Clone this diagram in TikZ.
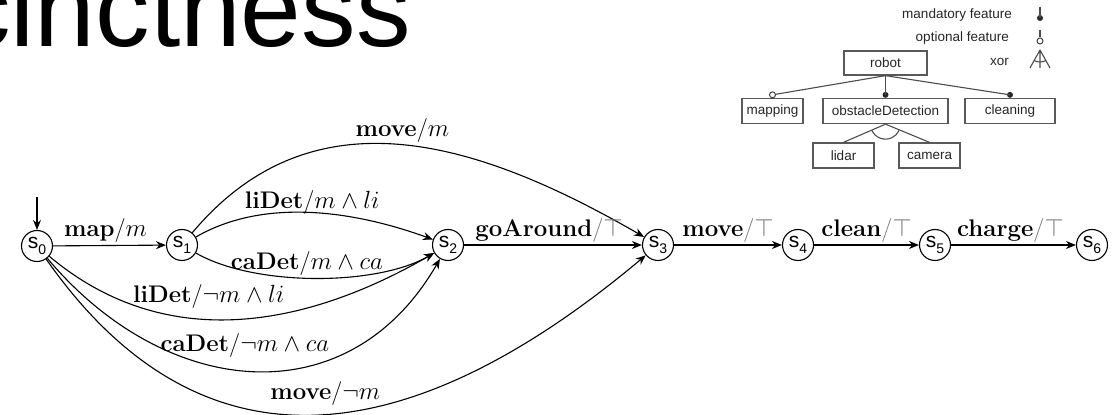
\documentclass[tikz,border=0pt]{standalone}
\usepackage{fontspec}
\newfontfamily\sanf{Liberation Sans}
\usetikzlibrary{arrows.meta,calc}
\newcommand\stlab[1]{s\raisebox{-6pt}{\fontsize{14}{14}\selectfont #1}}
\newcommand\gtop{{\color{black!55}/$\top$}}
\begin{document}
\begin{tikzpicture}[x=1pt,y=1pt,
  state/.style={circle,draw,line width=1.1pt,minimum size=31pt,inner sep=0pt,font=\sanf\fontsize{21}{21}\selectfont},
  trans/.style={line width=1.1pt,-{Stealth[length=10pt,width=8pt]}},
  lbl/.style={above,inner sep=2pt,font=\fontsize{24}{28}\selectfont},
  fbox/.style={draw=black!65,line width=1.3pt,minimum height=25pt,inner sep=0pt,font=\sanf\fontsize{13.5}{13.5}\selectfont,text=black!85},
  fedge/.style={draw=black!70,line width=1.1pt},
  mdot/.style={circle,fill=black!85,inner sep=0pt,minimum size=6pt},
  odot/.style={circle,draw=black!75,fill=white,line width=1pt,inner sep=0pt,minimum size=6pt},
  legtext/.style={anchor=east,inner sep=0pt,font=\sanf\fontsize{13.5}{13.5}\selectfont,text=black!85},
]
\useasboundingbox (0,0) rectangle (1117,415);
% title
\node[anchor=base west,inner sep=0pt,font=\sanf\fontsize{109}{109}\selectfont] (title) at (-44,368) {cinctness};

% feature diagram legend
\node[legtext] (lmand) at (1012,400) {mandatory feature};
\node[legtext] (lopt) at (1009,377) {optional feature};
\node[legtext] (lxor) at (1009,353) {xor};
\coordinate (m1) at (1040,408);
\node[mdot] (m2) at (1040,397) {};
\coordinate (o1) at (1040,385);
\node[odot] (o2) at (1040,374) {};
\coordinate (xa) at (1040,365); \coordinate (xb) at (1040,347);
\coordinate (xl) at (1030,347); \coordinate (xr) at (1050,347);
\draw[fedge] (m1) -- (m2.center);
\draw[fedge] (o1) -- (o2);
\draw[fedge] (xa) -- (xb) (xa) -- (xl) (xa) -- (xr);
\draw[fedge] ([shift={(241:12)}]xa) arc[start angle=241,end angle=299,radius=12];

% feature diagram
\node[fbox,minimum width=83pt,minimum height=24pt] (robot) at (885.5,352) {robot};
\node[fbox,minimum width=61pt] (mapping) at (772.5,304) {mapping};
\node[fbox,minimum width=125pt] (od) at (885.5,304) {obstacleDetection};
\node[fbox,minimum width=90pt] (cleaning) at (1010,304) {cleaning};
\node[fbox,minimum width=61pt] (lidar) at (843.5,259.5) {lidar};
\node[fbox,minimum width=61pt] (camera) at (929.5,259.5) {camera};
\node[odot] (dmap) at ($(mapping.north)+(0,3)$) {};
\node[mdot] (dod) at ($(od.north)+(0,3)$) {};
\node[mdot] (dcl) at ($(cleaning.north)+(0,3)$) {};
\draw[fedge] (robot.south) -- (dmap);
\draw[fedge] (robot.south) -- (dod.center);
\draw[fedge] (robot.south) -- (dcl.center);
\draw[fedge] (od.south) -- (lidar.north);
\draw[fedge] (od.south) -- (camera.north);
\draw[fedge] ([shift={(-155:15)}]od.south) arc[start angle=-155,end angle=-25,radius=15];

% automaton
\node[state] (s0) at (37,169) {\stlab{0}};
\node[state] (s1) at (182,170) {\stlab{1}};
\node[state] (s2) at (448,170) {\stlab{2}};
\node[state] (s3) at (658,170) {\stlab{3}};
\node[state] (s4) at (798,170) {\stlab{4}};
\node[state] (s5) at (935,170) {\stlab{5}};
\node[state] (s6) at (1092,170) {\stlab{6}};
\coordinate (init) at (37,218);
\draw[trans] (init) -- (s0);

\draw[trans] (s0) -- node[lbl,xshift=-4pt] (l01) {\textbf{map}/$m$} (s1);
\draw[trans] (s1) to[out=30,in=160,looseness=0.87] node[lbl,pos=0.5,yshift=-4pt] (l12a) {\textbf{liDet}/$m\wedge li$} (s2);
\draw[trans] (s1) to[out=-30,in=-150,looseness=0.72] node[lbl,pos=0.47] (l12b) {\textbf{caDet}/$m\wedge ca$} (s2);
\draw[trans] (s1) to[out=50,in=150,looseness=1.07] node[lbl,pos=0.5] (l13) {\textbf{move}/$m$} (s3);
\draw[trans] (s0) to[out=-40,in=-150,looseness=1.0] node[lbl,pos=0.43,yshift=8pt] (l02a) {\textbf{liDet}/$\neg m\wedge li$} (s2);
\draw[trans] (s0) to[out=-50,in=-120,looseness=1.2] node[lbl,pos=0.48,yshift=11pt] (l02b) {\textbf{caDet}/$\neg m\wedge ca$} (s2);
\draw[trans] (s0) to[out=-55,in=-140,looseness=1.22] node[lbl,pos=0.5,yshift=6pt] (l03) {\textbf{move}/$\neg m$} (s3);
\draw[trans] (s2) -- node[lbl,xshift=-4pt] (l23) {\textbf{goAround}\gtop} (s3);
\draw[trans] (s3) -- node[lbl] (l34) {\textbf{move}\gtop} (s4);
\draw[trans] (s4) -- node[lbl] (l45) {\textbf{clean}\gtop} (s5);
\draw[trans] (s5) -- node[lbl,xshift=-3pt] (l56) {\textbf{charge}\gtop} (s6);
\end{tikzpicture}
\end{document}
